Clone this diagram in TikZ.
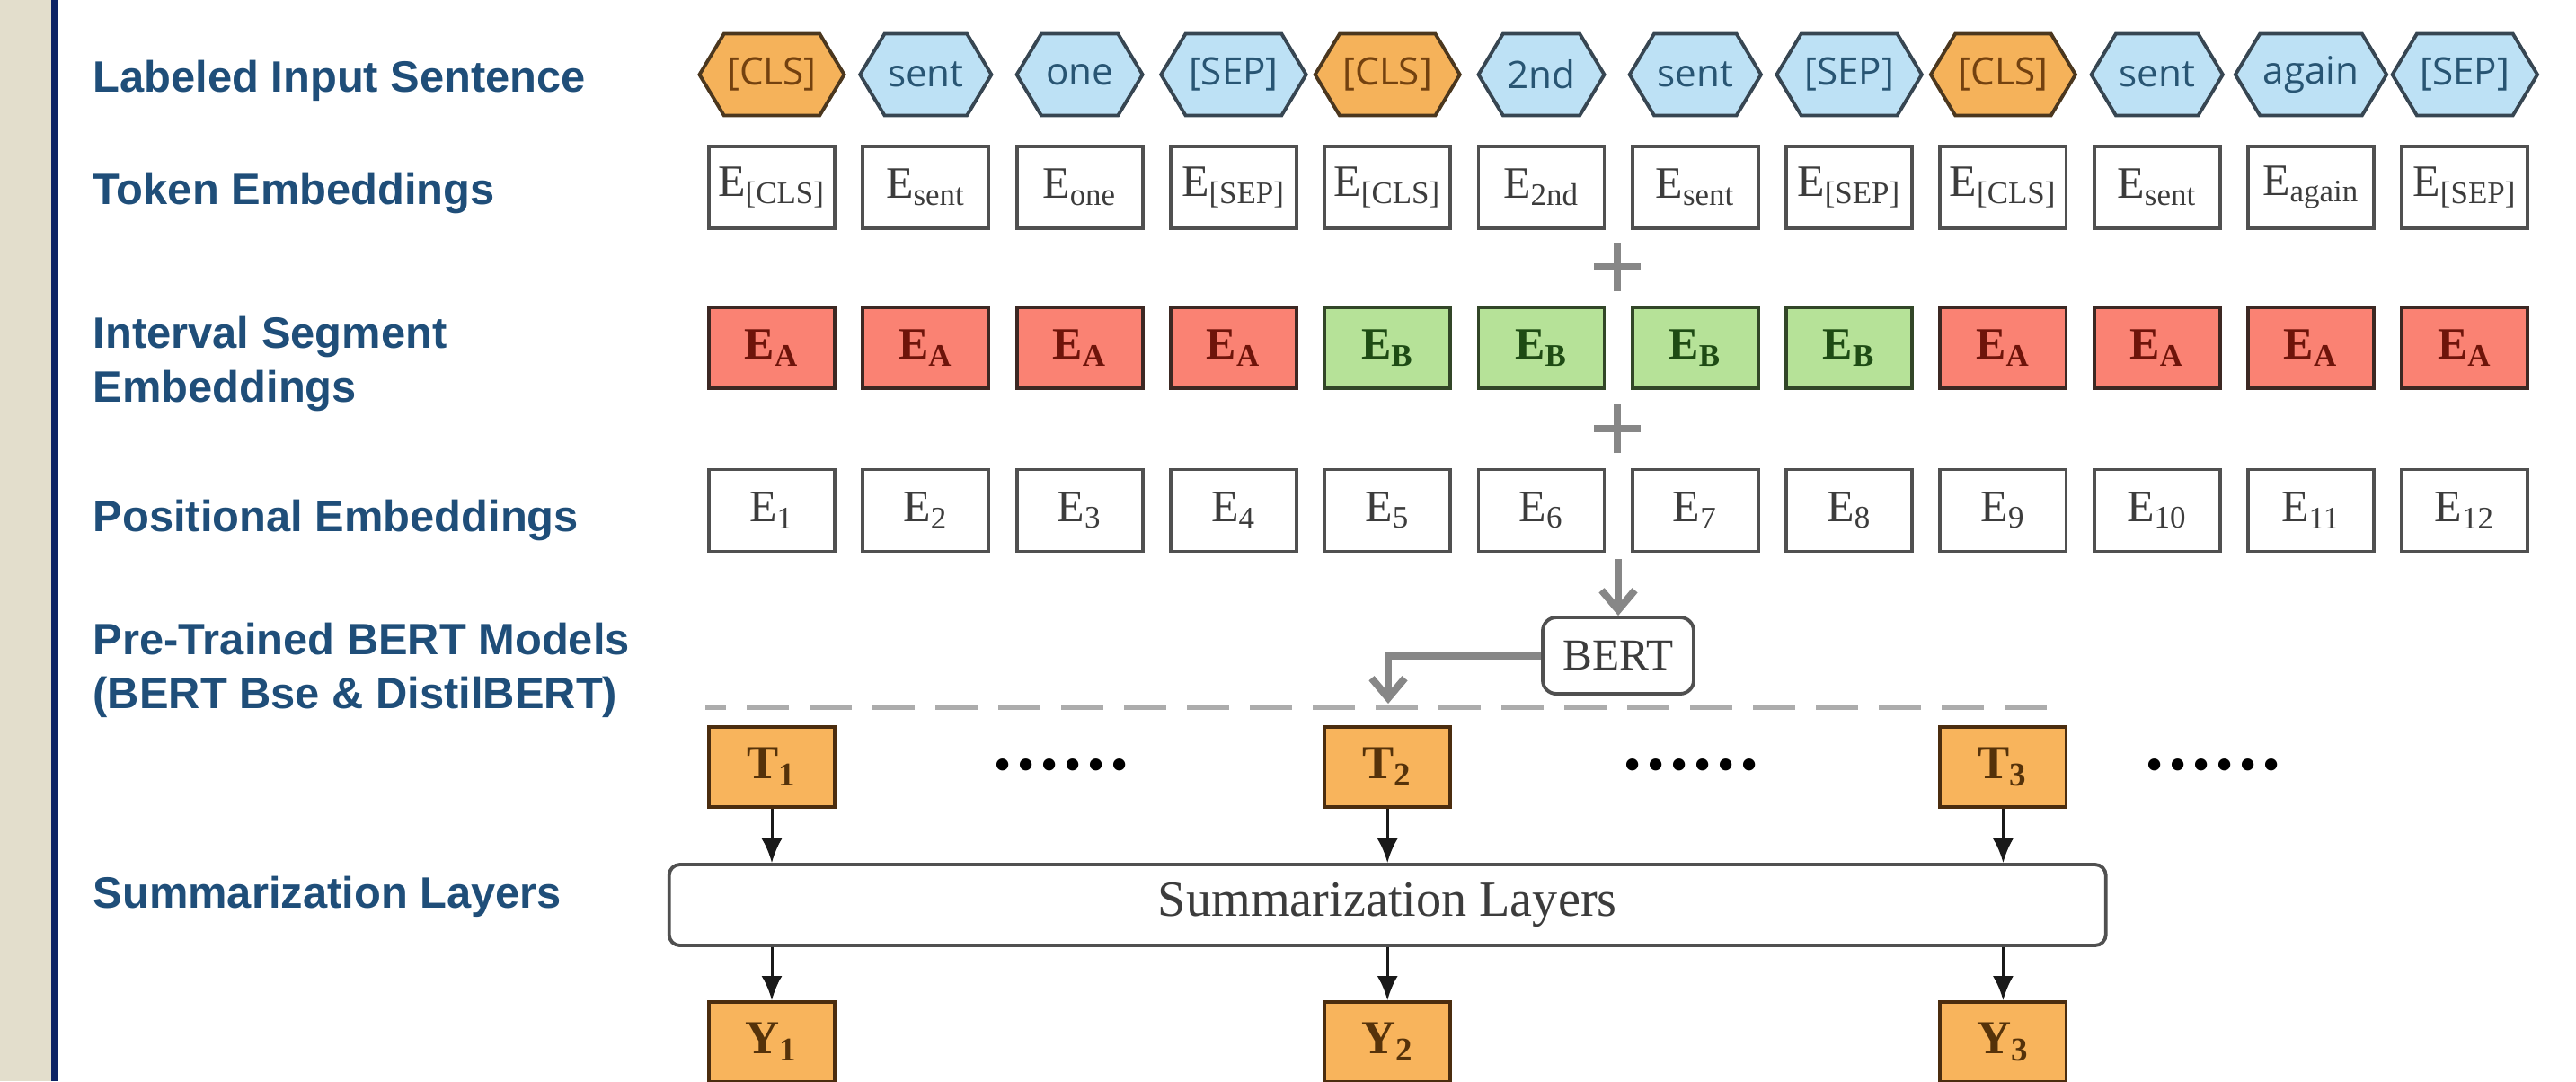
\documentclass[tikz,border=0pt]{standalone}
\usepackage{fontspec}
\setmainfont{Liberation Serif}
\setsansfont{Liberation Sans}
\newfontfamily\hexfont{Open Sans}
\usepackage{tikz}
\usetikzlibrary{arrows.meta, positioning, shapes.symbols}

\definecolor{stripbeige}{RGB}{227,222,204}
\definecolor{stripnavy}{RGB}{12,35,100}
\definecolor{lblblue}{RGB}{31,78,121}
\definecolor{hexclsfill}{RGB}{245,178,90}
\definecolor{hexclsdraw}{RGB}{75,55,30}
\definecolor{hexclstext}{RGB}{115,65,15}
\definecolor{hexwordfill}{RGB}{189,225,245}
\definecolor{hexworddraw}{RGB}{55,70,82}
\definecolor{hexwordtext}{RGB}{40,85,115}
\definecolor{boxdraw}{RGB}{80,80,80}
\definecolor{boxtext}{RGB}{60,60,60}
\definecolor{segafill}{RGB}{250,130,115}
\definecolor{segadraw}{RGB}{60,40,35}
\definecolor{segatext}{RGB}{110,20,10}
\definecolor{segbfill}{RGB}{182,226,152}
\definecolor{segbdraw}{RGB}{50,70,40}
\definecolor{segbtext}{RGB}{30,75,20}
\definecolor{outfill}{RGB}{248,180,92}
\definecolor{outdraw}{RGB}{75,45,15}
\definecolor{outtext}{RGB}{85,50,10}
\definecolor{arrowgray}{RGB}{135,135,135}
\definecolor{dashgray}{RGB}{172,172,172}

\newcommand{\emb}[1]{E\textsubscript{#1}}
\newcommand{\dotsix}{\textbullet\hspace{2.5pt}\textbullet\hspace{2.5pt}\textbullet\hspace{2.5pt}\textbullet\hspace{2.5pt}\textbullet\hspace{2.5pt}\textbullet}

\begin{document}
\begin{tikzpicture}[
node distance=1.713cm,
lbl/.style={anchor=base west, align=left, inner sep=0pt, text=lblblue, font=\sffamily\bfseries\fontsize{13.9}{16.8}\selectfont},
hexcls/.style={signal, signal to=east and west, signal pointer angle=118, draw=hexclsdraw, fill=hexclsfill, line width=1.1pt, minimum width=1.40cm, minimum height=0.91cm, inner xsep=1pt, text=hexclstext, font=\hexfont\fontsize{12}{14}\selectfont},
hexword/.style={hexcls, draw=hexworddraw, fill=hexwordfill, text=hexwordtext},
tokbox/.style={rectangle, draw=boxdraw, line width=1.1pt, fill=white, minimum width=1.40cm, minimum height=0.91cm, inner sep=0pt, text=boxtext, font=\fontsize{14.2}{17}\selectfont},
sega/.style={tokbox, draw=segadraw, fill=segafill, text=segatext, minimum height=0.90cm, font=\bfseries\fontsize{14.2}{17}\selectfont},
segb/.style={sega, draw=segbdraw, fill=segbfill, text=segbtext},
outbox/.style={tokbox, draw=outdraw, fill=outfill, text=outtext, minimum height=0.89cm, font=\bfseries\fontsize{15}{18}\selectfont},
bertbox/.style={rectangle, rounded corners=0.15cm, draw=boxdraw, line width=1.1pt, fill=white, minimum width=1.68cm, minimum height=0.85cm, text=boxtext, font=\fontsize{14}{17}\selectfont},
sumbox/.style={bertbox, rounded corners=0.12cm, minimum width=15.99cm, minimum height=0.90cm, font=\fontsize{16}{19}\selectfont},
dotrow/.style={inner sep=0pt, font=\bfseries\fontsize{14}{17}\selectfont},
grayarrow/.style={draw=arrowgray, line width=2.3pt, -{Straight Barb[length=2.2mm,width=3.7mm]}},
arrow/.style={draw=black!90, line width=0.85pt, -{Latex[length=2.7mm,width=2.3mm]}},
plusline/.style={draw=arrowgray, line width=2.4pt},
dashline/.style={draw=dashgray, line width=1.7pt, dash pattern=on 0.47cm off 0.23cm, dash phase=0.24cm}
]

\useasboundingbox (0,0) rectangle (28.67,-12.03);
\fill[stripbeige] (0,0) rectangle (0.57,-12.03);
\fill[stripnavy] (0.57,0) rectangle (0.65,-12.03);

\node[lbl] (lsent) at (1.03,-1.02) {Labeled Input Sentence};
\node[lbl] (ltok) at (1.03,-2.27) {Token Embeddings};
\node[lbl] (lseg) at (1.03,-4.47) {Interval Segment\\Embeddings};
\node[lbl] (lpos) at (1.03,-5.91) {Positional Embeddings};
\node[lbl] (lbert) at (1.03,-7.88) {Pre-Trained BERT Models\\(BERT Bse \& DistilBERT)};
\node[lbl] (lsum) at (1.03,-10.10) {Summarization Layers};

\node[hexcls] (h1) at (8.59,-0.83) {[CLS]};
\node[hexword, right of=h1] (h2) {sent};
\node[hexword, right of=h2] (h3) {one};
\node[hexword, right of=h3] (h4) {[SEP]};
\node[hexcls, right of=h4] (h5) {[CLS]};
\node[hexword, right of=h5] (h6) {2nd};
\node[hexword, right of=h6] (h7) {sent};
\node[hexword, right of=h7] (h8) {[SEP]};
\node[hexcls, right of=h8] (h9) {[CLS]};
\node[hexword, right of=h9] (h10) {sent};
\node[hexword, right of=h10] (h11) {again};
\node[hexword, right of=h11] (h12) {[SEP]};

\node[tokbox, node distance=1.255cm, below of=h1] (e1) {\emb{[CLS]}};
\node[tokbox, right of=e1] (e2) {\emb{sent}};
\node[tokbox, right of=e2] (e3) {\emb{one}};
\node[tokbox, right of=e3] (e4) {\emb{[SEP]}};
\node[tokbox, right of=e4] (e5) {\emb{[CLS]}};
\node[tokbox, right of=e5] (e6) {\emb{2nd}};
\node[tokbox, right of=e6] (e7) {\emb{sent}};
\node[tokbox, right of=e7] (e8) {\emb{[SEP]}};
\node[tokbox, right of=e8] (e9) {\emb{[CLS]}};
\node[tokbox, right of=e9] (e10) {\emb{sent}};
\node[tokbox, right of=e10] (e11) {\emb{again}};
\node[tokbox, right of=e11] (e12) {\emb{[SEP]}};

\node[sega, node distance=1.785cm, below of=e1] (s1) {\emb{A}};
\node[sega, right of=s1] (s2) {\emb{A}};
\node[sega, right of=s2] (s3) {\emb{A}};
\node[sega, right of=s3] (s4) {\emb{A}};
\node[segb, right of=s4] (s5) {\emb{B}};
\node[segb, right of=s5] (s6) {\emb{B}};
\node[segb, right of=s6] (s7) {\emb{B}};
\node[segb, right of=s7] (s8) {\emb{B}};
\node[sega, right of=s8] (s9) {\emb{A}};
\node[sega, right of=s9] (s10) {\emb{A}};
\node[sega, right of=s10] (s11) {\emb{A}};
\node[sega, right of=s11] (s12) {\emb{A}};

\node[tokbox, node distance=1.81cm, below of=s1] (p1) {\emb{1}};
\node[tokbox, right of=p1] (p2) {\emb{2}};
\node[tokbox, right of=p2] (p3) {\emb{3}};
\node[tokbox, right of=p3] (p4) {\emb{4}};
\node[tokbox, right of=p4] (p5) {\emb{5}};
\node[tokbox, right of=p5] (p6) {\emb{6}};
\node[tokbox, right of=p6] (p7) {\emb{7}};
\node[tokbox, right of=p7] (p8) {\emb{8}};
\node[tokbox, right of=p8] (p9) {\emb{9}};
\node[tokbox, right of=p9] (p10) {\emb{10}};
\node[tokbox, right of=p10] (p11) {\emb{11}};
\node[tokbox, right of=p11] (p12) {\emb{12}};

\coordinate (plusa) at (18.00,-2.97);
\coordinate (plusb) at (18.00,-4.77);
\draw[plusline] ([xshift=-0.26cm]plusa) -- ([xshift=0.26cm]plusa) ([yshift=-0.27cm]plusa) -- ([yshift=0.27cm]plusa);
\draw[plusline] ([xshift=-0.26cm]plusb) -- ([xshift=0.26cm]plusb) ([yshift=-0.27cm]plusb) -- ([yshift=0.27cm]plusb);

\coordinate (embout) at (18.01,-6.22);
\node[bertbox] (bert) at (18.01,-7.295) {BERT};
\draw[grayarrow] (embout) -- (bert);

\coordinate (layl) at (7.85,-7.87);
\coordinate (layr) at (22.90,-7.87);
\coordinate (bertin) at (15.45,-7.83);
\draw[dashline] (layl) -- (layr);
\draw[grayarrow] (bert) -| (bertin);

\node[outbox, node distance=2.855cm, below of=p1] (t1) {T\textsubscript{1}};
\node[outbox, node distance=2.855cm, below of=p5] (t2) {T\textsubscript{2}};
\node[outbox, node distance=2.855cm, below of=p9] (t3) {T\textsubscript{3}};

\node[dotrow] (d1) at (11.81,-8.565) {\dotsix};
\node[dotrow] (d2) at (18.82,-8.565) {\dotsix};
\node[dotrow] (d3) at (24.63,-8.565) {\dotsix};

\node[sumbox, node distance=1.535cm, below of=t2] (summ) {Summarization Layers};

\node[outbox, node distance=3.06cm, below of=t1] (y1) {Y\textsubscript{1}};
\node[outbox, node distance=3.06cm, below of=t2] (y2) {Y\textsubscript{2}};
\node[outbox, node distance=3.06cm, below of=t3] (y3) {Y\textsubscript{3}};

\draw[arrow] (t1) -- (t1 |- summ.north);
\draw[arrow] (t2) -- (t2 |- summ.north);
\draw[arrow] (t3) -- (t3 |- summ.north);
\draw[arrow] (y1 |- summ.south) -- (y1);
\draw[arrow] (y2 |- summ.south) -- (y2);
\draw[arrow] (y3 |- summ.south) -- (y3);

\end{tikzpicture}
\end{document}
